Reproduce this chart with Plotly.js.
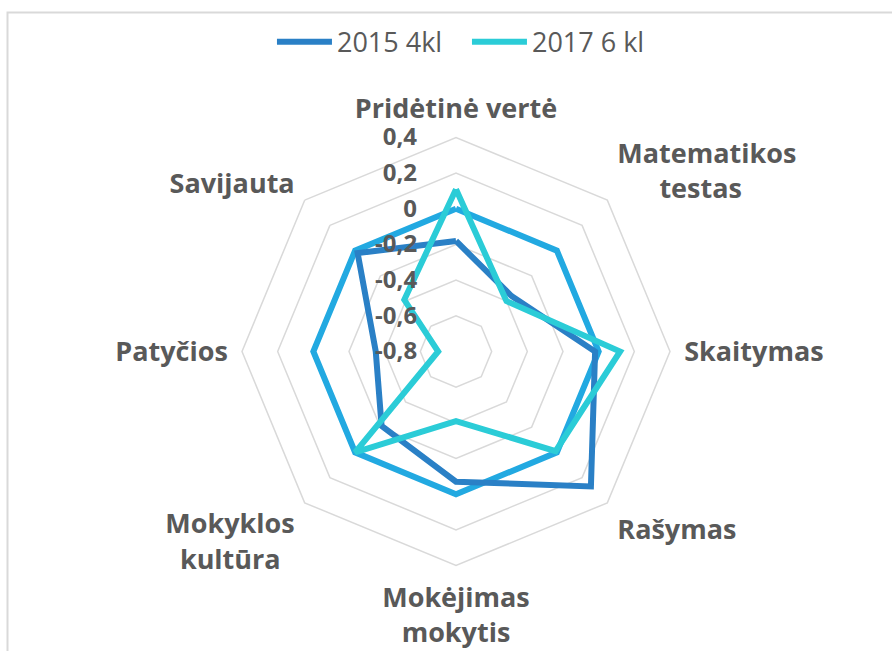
<!DOCTYPE html>
<html>
<head>
<meta charset="utf-8">
<script src="https://cdn.plot.ly/plotly-3.0.1.min.js"></script>
<style>
  html, body { margin: 0; padding: 0; background: #ffffff; }
  #chart { width: 892px; height: 651px; }
</style>
</head>
<body>
<div id="chart"></div>
<script>
// Categories (clockwise from top)
var categories = [
  'Pridėtinė vertė',
  'Matematikos<br>\u00a0\u00a0\u00a0\u00a0\u00a0\u00a0testas',
  'Skaitymas',
  'Rašymas',
  'Mokėjimas<br>mokytis',
  'Mokyklos<br>kultūra\u00a0\u00a0',
  'Patyčios',
  'Savijauta'
];

// Series values
var series2015 = [-0.18, -0.36, -0.02, 0.27, -0.07, -0.21, -0.35, -0.02];
var series2017 = [0.11, -0.40, 0.12, -0.01, -0.41, 0.00, -0.70, -0.39];
var seriesZero = [0, 0, 0, 0, 0, 0, 0, 0];

// Radial tick values and labels
var tickValues = [-0.8, -0.6, -0.4, -0.2, 0, 0.2, 0.4];
var tickLabels = ['-0,8', '-0,6', '-0,4', '-0,2', '0', '0,2', '0,4'];

function closed(arr) { return arr.concat([arr[0]]); }

var traces = [
  {
    type: 'scatterpolar',
    mode: 'lines',
    name: 'Vidurkis',
    r: closed(seriesZero),
    theta: closed(categories),
    line: { color: '#22A9E1', width: 6 },
    showlegend: false,
    hoverinfo: 'skip'
  },
  {
    type: 'scatterpolar',
    mode: 'lines',
    name: '2015 4kl',
    r: closed(series2015),
    theta: closed(categories),
    line: { color: '#2A80C6', width: 6 }
  },
  {
    type: 'scatterpolar',
    mode: 'lines',
    name: '2017 6 kl',
    r: closed(series2017),
    theta: closed(categories),
    line: { color: '#2BCCD7', width: 6 }
  }
];

var grey = '#595959';
var gridColor = '#D9D9D9';

var layout = {
  width: 892,
  height: 651,
  margin: { l: 0, r: 0, t: 0, b: 0 },
  paper_bgcolor: '#ffffff',
  plot_bgcolor: '#ffffff',
  font: { family: 'Open Sans, sans-serif', color: grey },
  showlegend: true,
  legend: {
    orientation: 'h',
    x: 0.5235, xanchor: 'center',
    y: 0.935, yanchor: 'middle',
    font: { family: 'Open Sans, sans-serif', size: 27, color: grey },
    traceorder: 'normal',
    itemwidth: 55,
    entrywidth: 125
  },
  polar: {
    domain: { x: [242 / 892, 670 / 892], y: [1 - 565.5 / 651, 1 - 137.5 / 651] },
    bgcolor: '#ffffff',
    gridshape: 'linear',
    radialaxis: {
      range: [-0.8, 0.4],
      tickvals: tickValues,
      ticktext: tickLabels,
      angle: 90,
      tickangle: 90,
      side: 'counterclockwise',
      showline: false,
      showgrid: true,
      gridcolor: gridColor,
      gridwidth: 1.5,
      ticks: 'outside',
      ticklen: 30,
      tickcolor: 'rgba(0,0,0,0)',
      tickfont: { family: 'Open Sans, sans-serif', size: 24, color: grey, weight: 'bold' }
    },
    angularaxis: {
      direction: 'clockwise',
      rotation: 90,
      showgrid: false,
      showline: true,
      linecolor: gridColor,
      linewidth: 1.5,
      ticks: 'outside',
      ticklen: 8,
      tickcolor: 'rgba(0,0,0,0)',
      tickfont: { family: 'Open Sans, sans-serif', size: 27, color: grey, weight: 'bold' }
    }
  },
  shapes: [
    {
      type: 'rect', xref: 'paper', yref: 'paper',
      x0: 7.5 / 892, x1: 1.05, y0: -0.05, y1: 1 - 12.5 / 651,
      line: { color: '#D9D9D9', width: 2 },
      fillcolor: 'rgba(0,0,0,0)',
      layer: 'below'
    }
  ]
};

Plotly.newPlot('chart', traces, layout, { displayModeBar: false, staticPlot: true });
</script>
</body>
</html>
